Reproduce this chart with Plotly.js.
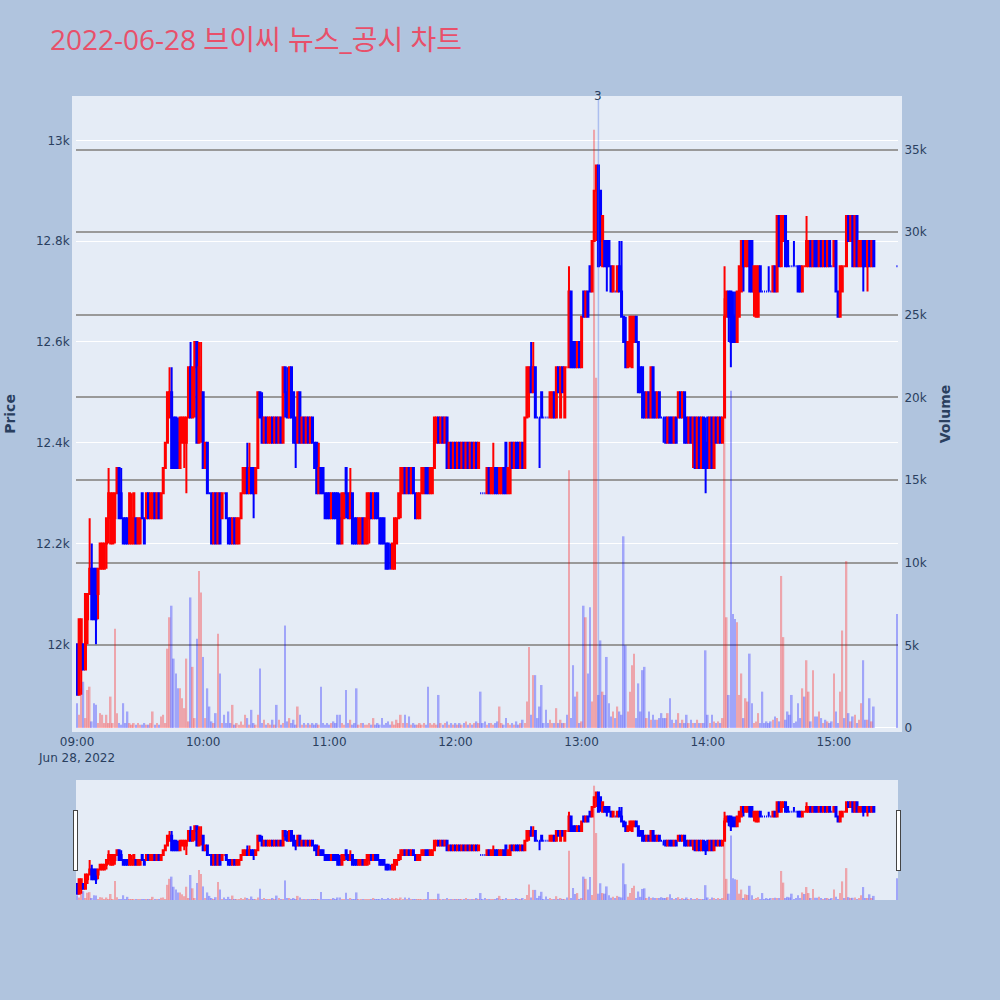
<!DOCTYPE html>
<html>
<head>
<meta charset="utf-8">
<script src="https://cdn.plot.ly/plotly-3.0.1.min.js"></script>
<style>html,body{margin:0;padding:0;background:#B0C4DE;}#chart{width:1000px;height:1000px;}</style>
</head>
<body>
<div id="chart"></div>
<script>
// ---- data ----
const chartTitle = '2022-06-28 브이씨 뉴스_공시 차트';
const tradeDate = '2022-06-28';
const sessionStartHour = 9;
const regularMinutes = 380;            // 09:00 .. 15:19
const closingAuctionTime = '15:30';
const newsTime = '13:08';
const newsCount = '3';

const openPrice = [
12000,11900,11950,12000,11950,12050,12100,12150,12150,12150,
12100,12150,12150,12150,12200,12250,12200,12200,12250,12300,
12350,12300,12250,12250,12250,12200,12200,12200,12250,12200,
12200,12300,12250,12250,12300,12250,12250,12300,12250,12300,
12250,12300,12350,12400,12450,12500,12450,12450,12400,12350,
12400,12400,12400,12450,12550,12450,12550,12600,12400,12450,
12500,12350,12400,12300,12300,12200,12300,12200,12300,12250,
12300,12300,12250,12250,12200,12250,12200,12200,12250,12300,
12300,12350,12300,12350,12350,12300,12350,12500,12450,12400,
12450,12400,12400,12450,12400,12450,12400,12450,12400,12550,
12500,12450,12550,12500,12450,12400,12500,12400,12450,12400,
12450,12400,12450,12400,12400,12300,12350,12350,12300,12300,
12300,12250,12300,12300,12300,12250,12200,12250,12350,12300,
12250,12300,12250,12250,12200,12200,12250,12200,12200,12250,
12300,12250,12300,12300,12250,12250,12250,12200,12200,12150,
12150,12150,12200,12250,12300,12300,12350,12300,12350,12300,
12350,12300,12250,12250,12300,12300,12350,12350,12300,12300,
12350,12400,12450,12400,12450,12400,12450,12350,12400,12350,
12400,12350,12400,12350,12400,12350,12400,12350,12400,12350,
12400,12350,12300,12300,12300,12300,12350,12300,12300,12350,
12350,12300,12300,12350,12400,12300,12300,12400,12350,12400,
12400,12350,12400,12350,12450,12500,12550,12500,12550,12450,
12450,12500,12450,12450,12450,12450,12450,12500,12450,12550,
12450,12550,12450,12550,12550,12700,12600,12600,12550,12600,
12550,12700,12650,12700,12750,12700,12800,12900,12950,12900,
12750,12800,12800,12800,12750,12700,12700,12700,12750,12700,
12650,12600,12550,12600,12550,12600,12650,12600,12550,12550,
12500,12450,12500,12450,12550,12500,12450,12500,12450,12450,
12450,12400,12450,12450,12400,12450,12450,12500,12450,12500,
12450,12400,12450,12400,12450,12350,12450,12350,12450,12400,
12450,12350,12450,12350,12450,12400,12450,12400,12450,12650,
12700,12700,12650,12650,12600,12650,12700,12800,12750,12750,
12800,12800,12700,12650,12650,12750,12700,12700,12700,12700,
12700,12700,12750,12700,12850,12750,12800,12850,12800,12750,
12750,12750,12750,12750,12750,12700,12750,12750,12750,12800,
12750,12800,12800,12750,12800,12750,12800,12750,12800,12750,
12750,12800,12700,12650,12700,12750,12750,12850,12800,12850,
12750,12850,12750,12750,12800,12800,12750,12800,12750,12800,
12750];

const highPrice = [
12000,12050,12050,12000,12100,12100,12250,12200,12150,12150,
12150,12200,12200,12200,12250,12350,12300,12300,12300,12350,
12350,12350,12250,12250,12250,12300,12300,12300,12250,12250,
12250,12300,12250,12300,12300,12300,12300,12300,12300,12300,
12300,12350,12400,12500,12550,12550,12450,12450,12450,12450,
12450,12450,12450,12550,12600,12550,12600,12600,12600,12600,
12500,12400,12400,12300,12300,12300,12300,12300,12300,12300,
12300,12300,12250,12250,12250,12250,12250,12250,12300,12350,
12350,12400,12400,12350,12350,12350,12500,12500,12500,12450,
12450,12450,12450,12450,12450,12450,12450,12450,12550,12550,
12550,12550,12550,12500,12450,12500,12500,12450,12450,12450,
12450,12450,12450,12400,12400,12400,12350,12350,12300,12300,
12300,12300,12300,12300,12300,12300,12300,12300,12350,12300,
12350,12300,12250,12250,12250,12250,12250,12250,12300,12300,
12300,12300,12300,12300,12250,12250,12250,12200,12200,12200,
12200,12250,12250,12300,12350,12350,12350,12350,12350,12350,
12350,12300,12300,12300,12350,12350,12350,12350,12350,12350,
12450,12450,12450,12450,12450,12450,12450,12400,12400,12400,
12400,12400,12400,12400,12400,12400,12400,12400,12400,12400,
12400,12400,12300,12300,12300,12350,12350,12350,12400,12350,
12350,12350,12350,12350,12400,12350,12400,12400,12400,12400,
12400,12400,12400,12450,12550,12550,12600,12600,12550,12450,
12450,12500,12450,12450,12450,12500,12500,12500,12550,12550,
12550,12550,12550,12550,12750,12700,12600,12600,12600,12600,
12650,12700,12700,12700,12750,12800,12900,12950,12950,12900,
12850,12800,12800,12800,12750,12750,12700,12750,12800,12800,
12650,12650,12600,12650,12650,12650,12650,12600,12550,12550,
12500,12500,12500,12550,12550,12500,12500,12500,12450,12450,
12450,12450,12450,12450,12450,12450,12500,12500,12500,12500,
12450,12450,12450,12450,12450,12450,12450,12450,12450,12450,
12450,12450,12450,12450,12450,12450,12450,12450,12750,12700,
12700,12700,12700,12700,12700,12750,12800,12800,12800,12800,
12800,12800,12750,12750,12750,12750,12700,12700,12700,12750,
12700,12750,12750,12850,12850,12850,12850,12850,12800,12750,
12750,12800,12750,12750,12750,12750,12750,12850,12800,12800,
12800,12800,12800,12800,12800,12800,12800,12800,12800,12750,
12800,12800,12700,12750,12750,12750,12850,12850,12850,12850,
12850,12850,12800,12800,12800,12800,12800,12800,12800,12800,
12750];

const lowPrice = [
11900,11900,11900,11950,11950,12000,12100,12050,12050,12000,
12050,12150,12150,12150,12150,12200,12200,12200,12200,12300,
12250,12250,12200,12200,12200,12200,12200,12200,12200,12200,
12200,12250,12200,12250,12250,12250,12250,12250,12250,12250,
12250,12300,12350,12400,12450,12350,12350,12350,12350,12350,
12400,12350,12300,12450,12450,12450,12450,12400,12400,12400,
12350,12350,12300,12300,12200,12200,12200,12200,12200,12250,
12300,12250,12200,12200,12200,12200,12200,12200,12250,12300,
12300,12300,12300,12300,12250,12300,12350,12450,12400,12400,
12400,12400,12400,12400,12400,12400,12400,12400,12400,12450,
12450,12450,12450,12400,12350,12400,12400,12400,12400,12400,
12400,12400,12400,12350,12300,12300,12300,12300,12250,12250,
12250,12250,12250,12250,12200,12200,12200,12250,12250,12250,
12250,12200,12200,12200,12200,12200,12200,12200,12200,12200,
12250,12250,12250,12250,12200,12200,12200,12150,12150,12150,
12150,12150,12200,12250,12250,12300,12300,12300,12300,12300,
12300,12250,12250,12250,12300,12300,12300,12300,12300,12300,
12350,12400,12400,12400,12400,12400,12350,12350,12350,12350,
12350,12350,12350,12350,12350,12350,12350,12350,12350,12350,
12350,12350,12300,12300,12300,12300,12300,12300,12300,12300,
12300,12300,12300,12300,12300,12300,12300,12350,12350,12350,
12350,12350,12350,12350,12450,12450,12500,12500,12450,12450,
12350,12450,12450,12450,12450,12450,12450,12450,12450,12500,
12450,12500,12450,12550,12550,12550,12550,12550,12550,12550,
12550,12650,12650,12650,12700,12700,12800,12800,12750,12750,
12750,12750,12700,12750,12700,12700,12700,12700,12700,12650,
12600,12550,12550,12550,12550,12600,12600,12500,12500,12450,
12450,12450,12450,12450,12450,12450,12450,12450,12450,12400,
12400,12400,12400,12400,12400,12400,12450,12450,12450,12400,
12400,12400,12400,12350,12350,12350,12350,12350,12350,12300,
12350,12350,12350,12350,12400,12400,12400,12400,12450,12650,
12600,12550,12600,12600,12600,12650,12700,12700,12750,12750,
12700,12700,12650,12650,12650,12700,12700,12700,12700,12700,
12700,12700,12700,12700,12750,12750,12800,12750,12750,12750,
12750,12750,12750,12700,12700,12700,12750,12750,12750,12750,
12750,12750,12750,12750,12750,12750,12750,12750,12750,12750,
12750,12700,12650,12650,12700,12750,12750,12800,12800,12750,
12750,12750,12750,12750,12700,12750,12700,12750,12750,12750,
12750];

const closePrice = [
11900,12050,12050,11950,12100,12100,12150,12050,12050,12050,
12150,12200,12200,12200,12250,12300,12300,12300,12300,12350,
12250,12250,12200,12200,12200,12300,12250,12300,12200,12250,
12250,12250,12200,12300,12250,12300,12300,12250,12300,12250,
12300,12350,12400,12500,12500,12350,12350,12350,12350,12450,
12450,12450,12450,12550,12450,12550,12600,12400,12550,12500,
12350,12400,12300,12300,12200,12300,12200,12300,12200,12300,
12300,12250,12200,12200,12250,12200,12250,12250,12300,12350,
12350,12300,12350,12300,12300,12350,12500,12450,12400,12450,
12400,12450,12450,12400,12450,12400,12450,12400,12550,12500,
12450,12550,12450,12400,12400,12500,12400,12450,12400,12450,
12400,12450,12400,12350,12300,12350,12300,12300,12250,12250,
12250,12300,12250,12250,12200,12200,12300,12300,12300,12250,
12300,12200,12200,12200,12250,12250,12200,12250,12300,12300,
12250,12300,12250,12250,12200,12200,12200,12150,12150,12150,
12200,12250,12250,12300,12350,12350,12300,12350,12300,12350,
12300,12250,12300,12300,12350,12350,12300,12300,12350,12350,
12450,12450,12400,12450,12400,12450,12350,12400,12350,12400,
12350,12400,12350,12400,12350,12400,12350,12400,12350,12400,
12350,12400,12300,12300,12300,12350,12300,12350,12350,12300,
12300,12350,12350,12300,12300,12350,12400,12350,12400,12350,
12350,12400,12350,12450,12550,12550,12500,12550,12450,12450,
12450,12450,12450,12450,12450,12500,12500,12450,12550,12500,
12550,12500,12550,12550,12700,12550,12550,12550,12600,12550,
12650,12650,12700,12650,12700,12800,12900,12950,12750,12800,
12850,12750,12750,12750,12700,12750,12700,12750,12700,12650,
12600,12550,12600,12650,12650,12650,12600,12500,12500,12450,
12450,12500,12450,12550,12450,12450,12500,12450,12450,12450,
12400,12450,12400,12400,12450,12400,12500,12450,12500,12400,
12400,12450,12400,12450,12350,12450,12350,12450,12350,12350,
12350,12450,12350,12450,12400,12450,12400,12450,12650,12700,
12650,12600,12600,12600,12700,12750,12800,12750,12800,12800,
12700,12700,12750,12750,12750,12700,12700,12700,12700,12700,
12700,12750,12700,12850,12750,12850,12850,12750,12750,12750,
12750,12750,12750,12700,12700,12750,12750,12800,12800,12750,
12800,12750,12750,12800,12750,12800,12750,12800,12750,12750,
12800,12700,12650,12750,12750,12750,12850,12800,12850,12750,
12850,12750,12800,12800,12750,12750,12800,12750,12800,12750,
12750];

const volume = [
1500,800,2400,2800,600,2300,2500,400,1500,1400,
300,900,800,300,800,300,1900,300,6000,900,
300,200,1500,300,1000,300,200,300,200,300,
200,200,300,200,200,300,1000,200,300,200,
700,800,300,4800,6700,7400,4200,3300,2400,2400,
1800,1200,4200,400,7900,3700,600,5400,9500,8200,
4300,600,2400,1300,400,300,900,5700,3300,300,
800,300,1000,300,1400,200,300,200,400,200,
800,600,200,1100,300,200,800,3600,300,500,
200,300,200,500,200,1400,500,200,300,6200,
400,600,300,500,200,1300,800,200,300,200,
300,200,300,200,300,200,2500,300,200,300,
200,300,400,300,800,800,300,200,2300,300,
500,200,300,2400,200,300,300,200,200,300,
200,600,200,300,200,600,200,300,400,200,
400,200,500,300,800,300,800,300,700,200,
300,200,200,300,200,300,200,2500,300,200,
300,200,2000,300,200,300,400,200,300,200,
300,200,300,200,300,400,200,300,200,300,
400,300,2200,300,400,200,300,300,200,300,
400,1300,300,200,600,300,200,300,200,400,
200,300,500,300,1600,4900,800,3200,3200,600,
1300,2600,300,1100,300,500,300,300,1200,300,
500,300,300,800,15600,600,3800,1900,2200,300,
400,7400,6700,3300,7300,1600,36200,21200,2000,5300,
2200,2000,4300,1500,700,1000,600,1300,1000,800,
11600,5000,1000,2200,3800,4500,600,2700,1000,3500,
3700,600,1000,500,800,500,500,600,900,600,
600,900,1800,500,300,500,900,300,500,300,
800,300,500,300,300,500,300,300,300,4700,
800,300,800,400,300,400,300,600,26000,6700,
2000,20400,6900,6600,6400,2000,3300,600,1800,1600,
4500,1500,300,400,900,300,2200,300,400,300,
400,500,700,600,400,9200,5500,500,1000,800,
2000,300,400,1500,600,2400,1900,4100,2200,400,
3500,700,700,1000,600,300,500,400,300,400,
3300,1000,300,2200,5900,600,10100,900,400,700,
800,300,500,1500,4100,500,500,1800,400,1300,
6900];

// ---- time stamps (one per traded minute, plus the closing auction) ----
const pad = n => String(n).padStart(2, '0');
const times = [];
for (let m = 0; m < regularMinutes; m++) {
  const h = sessionStartHour + Math.floor(m / 60);
  times.push(tradeDate + ' ' + pad(h) + ':' + pad(m % 60));
}
times.push(tradeDate + ' ' + closingAuctionTime);

const upColor = 'red', downColor = 'blue';
const volColors = closePrice.map((c, i) => c > openPrice[i] ? upColor : downColor);

const volumeTrace = {
  type: 'bar', x: times, y: volume, yaxis: 'y2', name: 'Volume',
  marker: {color: volColors, opacity: 0.3}, hoverinfo: 'skip'
};
const candleTrace = {
  type: 'candlestick', x: times, open: openPrice, high: highPrice, low: lowPrice, close: closePrice,
  name: 'Price', yaxis: 'y',
  increasing: {line: {color: upColor, width: 2}, fillcolor: upColor},
  decreasing: {line: {color: downColor, width: 2}, fillcolor: downColor}
};

const bgPlot = '#E5ECF6';
const axisFont = 'Verdana, "DejaVu Sans", sans-serif';
const layout = {
  width: 1000, height: 1000,
  paper_bgcolor: '#B0C4DE',
  plot_bgcolor: bgPlot,
  font: {family: axisFont, color: '#2a3f5f', size: 12},
  title: {text: chartTitle, x: 0.05, xanchor: 'left', y: 0.96, yanchor: 'middle',
          font: {family: '"Open Sans", "Noto Sans CJK KR", sans-serif', size: 28, color: '#E8506A'}},
  margin: {l: 76, r: 102, t: 100, b: 100},
  showlegend: false,
  xaxis: {
    type: 'date', showgrid: false, zeroline: false,
    showline: true, mirror: true, linecolor: bgPlot, linewidth: 4,
    rangeslider: {visible: true, thickness: 0.15}
  },
  yaxis: {
    title: {text: 'Price', font: {size: 14, weight: 'bold'}, standoff: 18},
    range: [11834, 13080], gridcolor: 'white', gridwidth: 1, zeroline: false,
    showline: true, linecolor: bgPlot, linewidth: 4
  },
  yaxis2: {
    title: {text: 'Volume', font: {size: 14, weight: 'bold'}, standoff: 16},
    overlaying: 'y', side: 'right', range: [0, 38000],
    showline: true, linecolor: bgPlot, linewidth: 4,
    showgrid: true, gridcolor: '#999999', gridwidth: 1.5, zeroline: true, zerolinecolor: 'white', zerolinewidth: 2
  },
  shapes: [{
    type: 'line', xref: 'x', yref: 'paper', x0: tradeDate + ' ' + newsTime, x1: tradeDate + ' ' + newsTime,
    y0: 0, y1: 1, line: {color: 'rgba(65,105,225,0.35)', width: 1.5}
  }],
  annotations: [{
    xref: 'x', yref: 'paper', x: tradeDate + ' ' + newsTime, y: 1, yshift: 4, text: newsCount,
    showarrow: false, xanchor: 'center', yanchor: 'middle', font: {size: 12, color: '#2a3f5f'}
  }]
};

Plotly.newPlot('chart', [volumeTrace, candleTrace], layout, {displayModeBar: false, responsive: false});
</script>
</body>
</html>
